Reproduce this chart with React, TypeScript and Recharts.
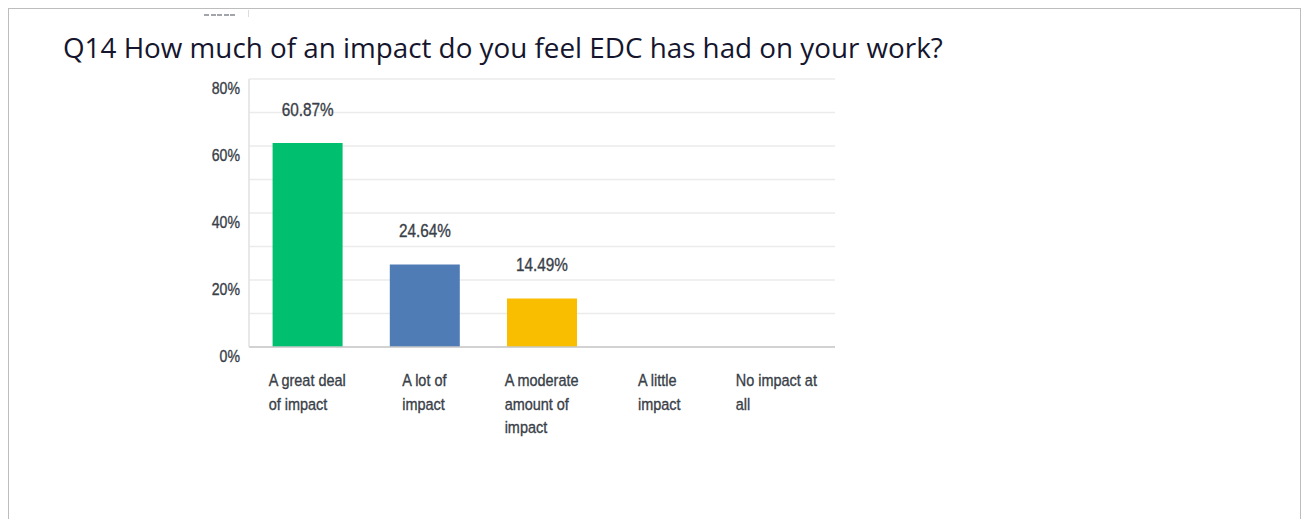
import React from 'react';
import { BarChart, Bar, XAxis, YAxis, CartesianGrid, LabelList, Cell } from 'recharts';

const categories = ['A great deal of impact', 'A lot of impact', 'A moderate amount of impact', 'A little impact', 'No impact at all'];
const categoryLines = [['A great deal', 'of impact'], ['A lot of', 'impact'], ['A moderate', 'amount of', 'impact'], ['A little', 'impact'], ['No impact at', 'all']];
const values = [60.87, 24.64, 14.49, 0, 0];
const colors = ['#00BF6F', '#507CB6', '#F9BE00', '#D25F90', '#6BC8CD'];
const gridTicks = [0, 10, 20, 30, 40, 50, 60, 70, 80];
const title = 'Q14 How much of an impact do you feel EDC has had on your work?';

const data = categories.map((c, i) => ({ name: c, idx: i, value: values[i] }));

const FONT = "'Liberation Sans', Arial, sans-serif";
const TEXT = '#394048';
const SX = 0.85;

let canvasCtx: CanvasRenderingContext2D | null = null;
function measure(text: string, size: number): number {
  if (!canvasCtx) {
    const c = document.createElement('canvas');
    canvasCtx = c.getContext('2d');
  }
  if (!canvasCtx) return text.length * size * 0.5;
  canvasCtx.font = `${size}px ${FONT}`;
  return canvasCtx.measureText(text).width;
}

const NText = ({ x, y, size, anchor, sx, children }: any) => (
  <text transform={`translate(${x},${y}) scale(${sx ?? SX},1)`} x={0} y={0} textAnchor={anchor} fontFamily={FONT} fontSize={size} fill={TEXT} stroke={TEXT} strokeWidth={0.35}>
    {children}
  </text>
);

const XTick = (props: any) => {
  const { x, y, payload } = props;
  const lines = categoryLines[payload.index] || [String(payload.value)];
  const w = Math.max(...lines.map((l) => measure(l, 17))) * SX;
  const left = x - w / 2;
  return (
    <g>
      {lines.map((l, i) => (
        <NText key={i} x={left} y={y + 31 + i * 23.5} size={17} anchor="start">
          {l}
        </NText>
      ))}
    </g>
  );
};

const YTick = (props: any) => {
  const { y, payload } = props;
  if (payload.value % 20 !== 0) return null;
  return (
    <NText x={240} y={y + 15} size={17} anchor="end" sx={0.83}>
      {`${payload.value}%`}
    </NText>
  );
};

const ValueLabel = (props: any) => {
  const { x, y, width, value } = props;
  if (!value) return null;
  return (
    <NText x={x + width / 2} y={y - 27} size={18} anchor="middle">
      {`${Number(value).toFixed(2)}%`}
    </NText>
  );
};

export default function App() {
  return (
    <div style={{ position: 'absolute', left: 0, top: 0, width: 1302, height: 519, overflow: 'hidden', background: '#fff' }}>
      <div style={{ position: 'absolute', left: 8, top: 8, width: 1293, height: 560, border: '1px solid #bdbdbd', boxSizing: 'border-box' }} />
      {[0, 1, 2, 3, 4].map((i) => (
        <div key={i} style={{ position: 'absolute', left: 204 + i * 6.5, top: 14, width: 5, height: 2, background: '#7a7f85', opacity: 0.7 }} />
      ))}
      <div style={{ position: 'absolute', left: 248, top: 10, width: 1, height: 7, background: '#dcdcdc' }} />
      <div style={{ position: 'absolute', left: 63, top: 33, fontFamily: "'Open Sans', sans-serif", fontSize: 27.8, lineHeight: '28px', color: '#15152e', whiteSpace: 'nowrap' }}>
        {title}
      </div>
      <div style={{ position: 'absolute', left: 0, top: 0 }}>
        <BarChart width={900} height={470} data={data} margin={{ top: 79, right: 65, bottom: 23, left: 189 }} barCategoryGap={23.6}>
          <CartesianGrid vertical={false} stroke="#ebebeb" strokeWidth={1.5} />
          <XAxis dataKey="name" height={100} interval={0} tick={<XTick />} tickLine={false} axisLine={{ stroke: '#c9c9c9', strokeWidth: 1.5 }} />
          <YAxis width={60} domain={[0, 80]} ticks={gridTicks} tick={<YTick />} tickLine={false} axisLine={{ stroke: '#e0e0e0', strokeWidth: 1.5 }} interval={0} />
          <Bar dataKey="value" isAnimationActive={false}>
            {data.map((d, i) => (
              <Cell key={i} fill={colors[i]} />
            ))}
            <LabelList dataKey="value" content={<ValueLabel />} />
          </Bar>
        </BarChart>
      </div>
    </div>
  );
}
